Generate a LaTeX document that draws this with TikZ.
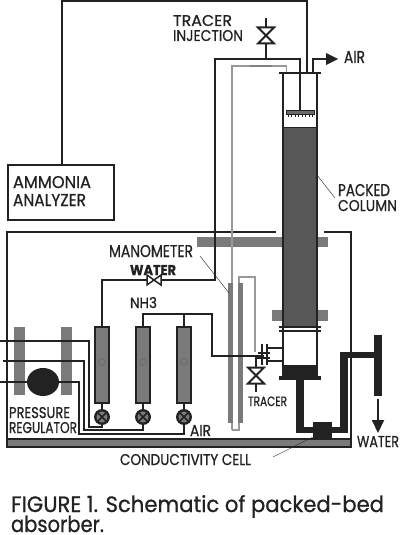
\documentclass[tikz,border=0pt]{standalone}
\usepackage{fontspec}
\usepackage{graphicx}
\setmainfont{Poppins}[FakeBold=0.8]
\usetikzlibrary{arrows.meta,shapes.geometric}
\definecolor{ink}{HTML}{222222}
\definecolor{gfill}{HTML}{7A7A7A}
\definecolor{cfill}{HTML}{585858}
\definecolor{lgray}{HTML}{999999}
\tikzset{
  pipe/.style={draw=ink,line width=2pt,line join=miter},
  heavy/.style={draw=ink,line width=2.6pt},
  thin pipe/.style={draw=lgray,line width=1.1pt},
  leader/.style={draw=ink,line width=0.4pt},
  blackfill/.style={fill=ink,draw=none},
  plate/.style={fill=gfill,draw=none},
  meter/.style={fill=gfill,draw=ink,line width=2pt},
  lbl/.style={anchor=base west,inner sep=0pt,outer sep=0pt,text=ink},
  bowtie/.style={draw=ink,line width=2pt,fill=white,line join=miter},
}
% width, height, text
\newcommand{\lab}[3]{\resizebox{#1pt}{#2pt}{#3}}
\newcommand{\vvalve}[2]{% x, ycenter
  \draw[bowtie] (#1-8,#2-8) -- (#1+8,#2-8) -- (#1-8,#2+8) -- (#1+8,#2+8) -- cycle;
}
\newcommand{\flowmeter}[2]{% name, x centre
  \draw[meter] (#2-7,327) rectangle (#2+7,403);
  \draw[draw=ink!70,line width=0.5pt] (#2,362) circle (3.3);
  \draw[pipe] (#2,403) -- (#2,410);
  \node[circle,draw=ink,line width=2.4pt,fill=gfill,minimum size=13.5pt,inner sep=0pt] (#1) at (#2,417) {};
  \draw[ink,line width=1.6pt] (#1.north west) -- (#1.south east) (#1.north east) -- (#1.south west);
}
\begin{document}
\begin{tikzpicture}[x=1pt,y=-1pt]
\useasboundingbox (0,0) rectangle (400,535);
\fill[white] (0,0) rectangle (400,535);

% analyzer and sampling line
\node[draw=ink,line width=1.8pt,minimum width=106pt,minimum height=55pt,anchor=north west,inner sep=0pt] (analyzer) at (7,164) {};
\coordinate (sample) at (307,73);
\draw[pipe] (62,164) -- (62,1) -- (307,1) -- (sample);

% plates
\fill[plate] (197,237) rectangle (328,247);
\draw[ink!60,line width=0.5pt] (215,237) -- (215,247) (245,237) -- (245,247) (277,237) -- (277,247);
\fill[plate] (272,310) rectangle (328,321);

% enclosure and tray
\fill[plate] (7,440) rectangle (351,447);
\draw[pipe] (276,232) -- (7,232) -- (7,447) -- (351,447) -- (351,232) -- (324,232);
\draw[pipe] (7,439) -- (351,439);

% gray manometer lines
\draw[thin pipe] (232,430) -- (232,66) -- (286.5,66) -- (286.5,73);
\draw[draw=gray,line width=1.2pt] (250,66) -- (272,66);
\draw[thin pipe] (232,430) -- (239,430) -- (239,277) -- (255,277) -- (255,352);
\fill[plate] (228,283) rectangle (233,423);
\fill[plate] (238,283) rectangle (243,423);

% column
\fill[white] (283,73) rectangle (317,127);
\fill[cfill] (283,127) rectangle (317,327);
\draw[heavy] (283,73) -- (283,365) (317,73) -- (317,365);
\draw[heavy] (279,73) -- (321,73);
\draw[draw=ink,line width=1.6pt] (279,327) -- (321,327) (279,331) -- (321,331);
\draw[draw=ink,line width=0.8pt] (283,127) -- (317,127);

% water feed + tracer inject
\draw[pipe] (102,327) -- (102,280) -- (215,280) -- (215,59) -- (300,59) -- (300,110);
\fill[lgray!70!black] (286,110) rectangle (314,114);
\draw[draw=ink,line width=0.5pt] (286,114) rectangle (314,110);
\foreach \x in {288,291.5,...,313} \draw[draw=ink,line width=0.5pt] (\x,114) -- (\x,117);
\draw[pipe] (266,59) -- (266,18);
\vvalve{266}{35.5}
% horizontal valve on water
\draw[bowtie,line width=1.5pt] (147,275) -- (147,285) -- (161,275) -- (161,285) -- cycle;

% air outlet
\draw[pipe] (313,73) -- (313,59) -- (327,59);
\fill[ink] (326,53) -- (338,59) -- (326,65) -- cycle;

% flow meters
\flowmeter{fa}{102}
\flowmeter{fb}{143}
\flowmeter{fc}{184}

% NH3 line
\draw[pipe] (143,327) -- (143,314) -- (212,314) -- (212,355.5) -- (264,355.5);
\draw[pipe] (184,314) -- (184,327);

% regulator
\fill[plate] (14,327) rectangle (25,395);
\fill[plate] (61,327) rectangle (72,395);
\node[ellipse,fill=ink,minimum width=32pt,minimum height=28pt,inner sep=0pt] (reg) at (43,382) {};
\draw[pipe] (0,341) -- (89,341) -- (89,426.5) -- (102,426.5) -- (fa.south);
\draw[pipe] (3,361) -- (84,361) -- (84,430) -- (143,430) -- (fb.south);
\draw[pipe] (0,382) -- (79,382) -- (79,433.5) -- (184,433.5) -- (fc.south);

% fittings
\draw[draw=ink,line width=1.8pt] (262,344) -- (262,365) (267,344) -- (267,365);
\draw[draw=ink,line width=1.4pt] (258,353) -- (270,353) (258,358) -- (270,358);
\draw[pipe] (267,348) -- (283,348) -- (283,331);
\draw[pipe] (267,361) -- (283,361) -- (283,367);
\draw[pipe] (262,358) -- (256,358) -- (256,392);
\vvalve{256}{375.5}

% outlet plumbing
\fill[blackfill] (282,365) rectangle (318,379);
\fill[blackfill] (279,376) rectangle (321,380);
\fill[blackfill] (296,379) rectangle (304,433);
\fill[blackfill] (296,427) rectangle (348,433);
\fill[blackfill] (340,352) rectangle (348,433);
\fill[blackfill] (340,352) rectangle (376,358);
\fill[blackfill] (374,335) rectangle (382,396);
\fill[blackfill] (313,422) rectangle (332,438);
\draw[-{Triangle[length=13pt,width=12pt]},draw=ink,line width=2pt,ink] (378,399) -- (378,433);

% labels
\node[lbl] (tr1) at (173,26) {\lab{59}{11}{TRACER}};
\node[lbl] (tr2) at (173,41) {\lab{70}{11}{INJECTION}};
\node[lbl] (aa1) at (13,188) {\lab{78}{12}{AMMONIA}};
\node[lbl] (aa2) at (13,206) {\lab{73}{12}{ANALYZER}};
\node[lbl] (air1) at (344,63) {\lab{21}{12}{AIR}};
\node[lbl] (pc1) at (338,196) {\lab{52}{12}{PACKED}};
\node[lbl] (pc2) at (338,211) {\lab{59}{11}{COLUMN}};
\node[lbl] (man) at (109,257) {\lab{84}{12}{MANOMETER}};
\node[lbl] (wat1) at (130,275) {\lab{46}{10}{\bfseries WATER}};
\node[lbl] (nh3) at (130,308) {\lab{27}{11}{NH3}};
\node[lbl] (pr1) at (9,418) {\lab{61}{11}{PRESSURE}};
\node[lbl] (pr2) at (9,433) {\lab{68}{11}{REGULATOR}};
\node[lbl] (air2) at (190,436) {\lab{21}{11}{AIR}};
\node[lbl] (tracer) at (248,406) {\lab{39}{9.5}{TRACER}};
\node[lbl] (cc) at (120,465) {\lab{131}{11}{CONDUCTIVITY CELL}};
\node[lbl] (wat2) at (357,447) {\lab{42}{11}{WATER}};
\node[lbl] (cap1) at (11,512) {\lab{373}{17}{FIGURE 1. Schematic of packed-bed}};
\node[lbl] (cap2) at (11,532) {\lab{93}{16.5}{absorber.}};

% leaders
\draw[leader] (317,175) -- (335,198);
\draw[leader] (200,256) -- (229,293);
\draw[leader] (273,457) -- (313,437);
\end{tikzpicture}
\end{document}
